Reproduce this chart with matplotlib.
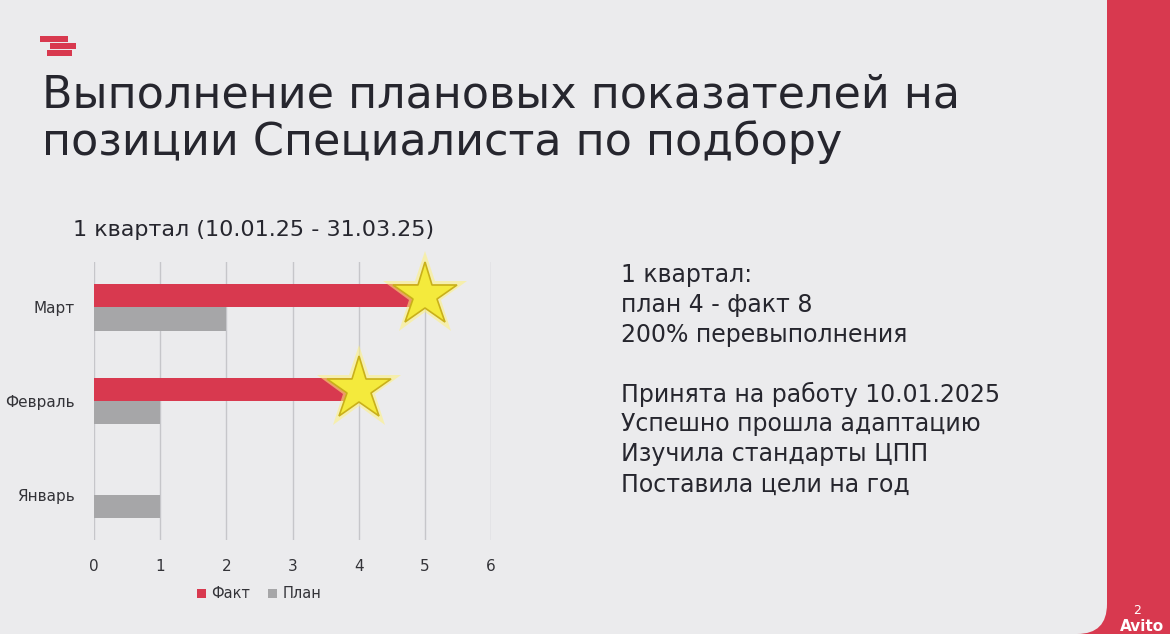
import matplotlib.pyplot as plt
from matplotlib.patches import FancyBboxPatch, Rectangle
import numpy as np

# data
months = ["Январь", "Февраль", "Март"]
fact = [0, 4, 5]
plan = [1, 1, 2]
x_ticks = [0, 1, 2, 3, 4, 5, 6]

title_lines = ["Выполнение плановых показателей на", "позиции Специалиста по подбору"]
subtitle = "1 квартал (10.01.25 - 31.03.25)"
notes = ["1 квартал:", "план 4 - факт 8", "200% перевыполнения", "",
         "Принята на работу 10.01.2025", "Успешно прошла адаптацию",
         "Изучила стандарты ЦПП", "Поставила цели на год"]

RED = "#d8394f"
GRAY_BAR = "#a6a6a8"
BG = "#ebebed"
TXT = "#26262e"

plt.rcParams['font.family'] = ['DejaVu Sans']

fig = plt.figure(figsize=(11.7, 6.34), dpi=100)
fig.patch.set_facecolor(RED)

# background in pixel coordinates
bg = fig.add_axes([0, 0, 1, 1], zorder=0)
bg.set_xlim(0, 1170)
bg.set_ylim(634, 0)
bg.axis("off")
bg.add_patch(FancyBboxPatch((-40, -40), 1147, 674, boxstyle="round,pad=0,rounding_size=30",
                            facecolor=BG, edgecolor="none"))

# logo
for (x0, y0, w) in [(40, 36, 28), (50, 43, 26), (47, 50, 25)]:
    bg.add_patch(Rectangle((x0, y0), w, 6, facecolor=RED, edgecolor="none"))

bg.text(42, 108, title_lines[0], fontsize=32, color=TXT, va="baseline")
bg.text(42, 155, title_lines[1], fontsize=32, color=TXT, va="baseline")
bg.text(73, 230, subtitle, fontsize=16, color=TXT, va="center")

for i, line in enumerate(notes):
    bg.text(621, 275 + i * 29.9, line, fontsize=17, color=TXT, va="center")

bg.text(1137, 611, "2", fontsize=9, color="white", ha="center", va="center")
bg.text(1142, 634, "Avito", fontsize=11, color="white", ha="center", va="bottom", fontweight="bold")

# chart
ax = fig.add_axes([94 / 1170, 1 - 540 / 634, 397 / 1170, 278 / 634], zorder=1)
ax.set_facecolor("none")
y = np.arange(len(months))
h = 0.25
ax.barh(y + h / 2, fact, height=h, color=RED, label="Факт", zorder=2)
ax.barh(y - h / 2, plan, height=h, color=GRAY_BAR, label="План", zorder=2)

# stars at the end of non-zero fact bars
for yi, v in zip(y, fact):
    if v > 0:
        ax.plot(v, yi + h / 2, marker="*", ms=64, color="#fff27a", alpha=0.55,
                markeredgewidth=0, zorder=3, clip_on=False)
        ax.plot(v, yi + h / 2, marker="*", ms=48, markerfacecolor="#f4ea3c",
                markeredgecolor="#c9b01a", markeredgewidth=1.2, zorder=4, clip_on=False)

ax.set_xlim(0, 6)
ax.set_ylim(-0.48, 2.48)
ax.set_xticks(x_ticks)
ax.set_yticks(y)
ax.set_yticklabels(months)
ax.grid(axis="x", color="#c6c6ca", linewidth=1, zorder=0)
ax.tick_params(length=0, labelsize=11, labelcolor="#333338")
ax.tick_params(axis="x", pad=14)
ax.tick_params(axis="y", pad=14)
for s in ax.spines.values():
    s.set_visible(False)

fig.legend(loc="center", bbox_to_anchor=(259 / 1170, 1 - 594 / 634), ncol=2, frameon=False,
           fontsize=10.5, handlelength=0.6, handleheight=0.6, handletextpad=0.4, columnspacing=1.2,
           labelcolor="#333338")

fig.savefig("out.png", dpi=100, facecolor=fig.get_facecolor())
